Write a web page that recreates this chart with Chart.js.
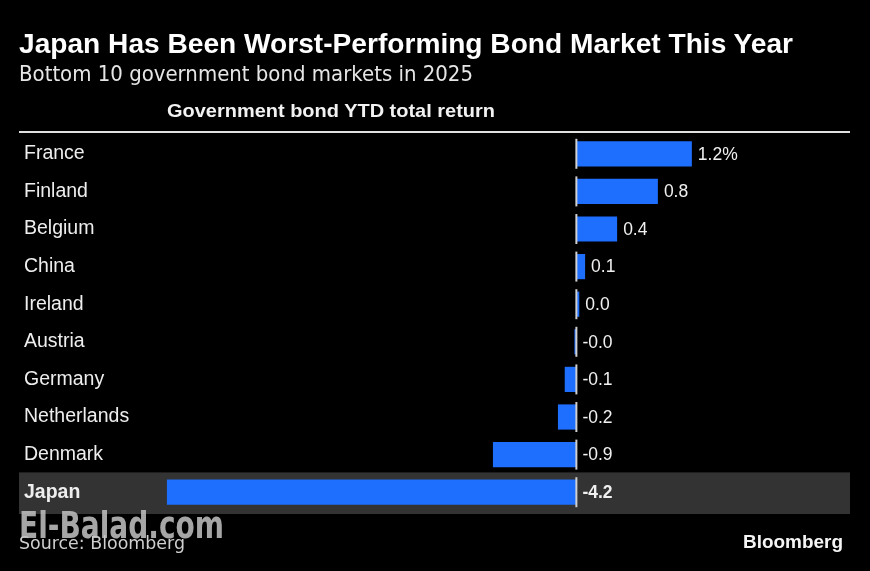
<!DOCTYPE html>
<html>
<head>
<meta charset="utf-8">
<script src="https://cdn.jsdelivr.net/npm/chart.js@4"></script>
<style>
  html, body { margin: 0; padding: 0; background: #000; }
  #wrap { position: relative; width: 870px; height: 571px; overflow: hidden; background: #000; }
  #chart { position: absolute; left: 0; top: 0; }
  .txt { position: absolute; white-space: nowrap; line-height: 1; transform-origin: 0 0; }
  #title { left: 19px; top: 29px; font: bold 27px "Liberation Sans", Arial, sans-serif; color: #fff; }
  #subtitle { left: 19px; top: 62px; font: 20.5px "DejaVu Sans", sans-serif; color: #e6e6e6; }
  #header { left: 167px; top: 100px; font: bold 19px "Liberation Sans", Arial, sans-serif; color: #f2f2f2; }
  #rule { position: absolute; left: 19px; top: 131px; width: 831px; height: 2px; background: #e0e0e0; }
  #watermark { left: 19px; top: 503px; font: bold 38px "DejaVu Sans Condensed", "DejaVu Sans", sans-serif; color: rgba(195,195,195,0.85); }
  #source { left: 19px; top: 533px; font: 17px "DejaVu Sans", sans-serif; color: #cfcfcf; }
  #logo { left: 743px; top: 531px; font: bold 19px "Liberation Sans", Arial, sans-serif; color: #f5f5f5; }
</style>
</head>
<body>
<div id="wrap">
  <canvas id="chart" width="870" height="571"></canvas>
  <div class="txt" id="title" data-w="774">Japan Has Been Worst-Performing Bond Market This Year</div>
  <div class="txt" id="subtitle" data-w="454">Bottom 10 government bond markets in 2025</div>
  <div class="txt" id="header" data-w="328">Government bond YTD total return</div>
  <div id="rule"></div>
  <div class="txt" id="source" data-w="166">Source: Bloomberg</div>
  <div class="txt" id="logo" data-w="100">Bloomberg</div>
  <div class="txt" id="watermark" data-w="205">El-Balad.com</div>
</div>
<script>
const countries = ['France', 'Finland', 'Belgium', 'China', 'Ireland', 'Austria', 'Germany', 'Netherlands', 'Denmark', 'Japan'];
const returns = [1.19, 0.84, 0.42, 0.09, 0.03, -0.02, -0.12, -0.19, -0.86, -4.22];
const highlight = 'Japan';

// stretch the text blocks to the widths seen in the picture
document.querySelectorAll('.txt[data-w]').forEach(el => {
  const w = el.getBoundingClientRect().width;
  el.style.transform = 'scaleX(' + (parseFloat(el.dataset.w) / w) + ')';
});

const barBlue = '#1f6fff';

const rowDecor = {
  id: 'rowDecor',
  beforeDraw(chart) {
    const ctx = chart.ctx;
    const y = chart.scales.y;
    const i = countries.indexOf(highlight);
    const yc = y.getPixelForValue(i);
    const slot = (y.bottom - y.top) / countries.length;
    ctx.save();
    ctx.fillStyle = '#333333';
    ctx.fillRect(19, yc - slot / 2 - 1, 831, slot + 4);
    ctx.restore();
  },
  afterDatasetsDraw(chart) {
    const ctx = chart.ctx;
    const x0 = chart.scales.x.getPixelForValue(0);
    const meta = chart.getDatasetMeta(0);
    ctx.save();
    meta.data.forEach((bar, i) => {
      // zero line piece for each row
      ctx.strokeStyle = '#d0d0d0';
      ctx.lineWidth = 2;
      ctx.beginPath();
      ctx.moveTo(x0, bar.y - 15);
      ctx.lineTo(x0, bar.y + 15);
      ctx.stroke();

      const v = returns[i];
      let label = v.toFixed(1);
      if (i === 0) label += '%';
      const bold = countries[i] === highlight;
      ctx.font = (bold ? 'bold ' : '') + '17.5px "Liberation Sans", Arial, sans-serif';
      ctx.fillStyle = '#f0f0f0';
      ctx.textBaseline = 'middle';
      ctx.textAlign = 'left';
      const tx = Math.max(bar.x, x0) + 6;
      ctx.fillText(label, tx, bar.y + 1);
    });
    ctx.restore();
  }
};

new Chart(document.getElementById('chart'), {
  type: 'bar',
  data: {
    labels: countries,
    datasets: [{
      data: returns,
      backgroundColor: barBlue,
      borderWidth: 0,
      barPercentage: 0.67,
      categoryPercentage: 1
    }]
  },
  options: {
    indexAxis: 'y',
    responsive: false,
    animation: false,
    devicePixelRatio: 1,
    layout: { padding: { left: 24, right: 20, top: 135, bottom: 60 } },
    plugins: { legend: { display: false }, tooltip: { enabled: false } },
    scales: {
      x: {
        display: false,
        min: -4.25,
        max: 2.82
      },
      y: {
        grid: { display: false },
        border: { display: false },
        afterFit(scale) { scale.width = 140; },
        ticks: {
          crossAlign: 'far',
          padding: 0,
          color: '#eeeeee',
          font: ctx => ({
            family: '"Liberation Sans", Arial, sans-serif',
            size: 19.5,
            weight: countries[ctx.index] === highlight ? 'bold' : 'normal'
          })
        }
      }
    }
  },
  plugins: [rowDecor]
});
</script>
</body>
</html>
